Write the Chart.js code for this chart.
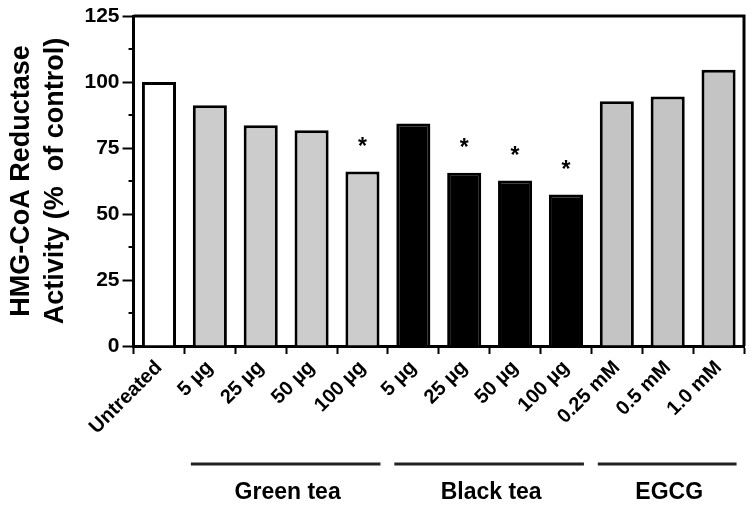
<!DOCTYPE html>
<html>
<head>
<meta charset="utf-8">
<script src="https://cdn.jsdelivr.net/npm/chart.js@4"></script>
<style>
  html, body { margin: 0; padding: 0; background: #fff; }
  #wrap { width: 754px; height: 511px; }
</style>
</head>
<body>
<div id="wrap"><canvas id="hmgChart" width="754" height="511"></canvas></div>
<script>
// values
const labels = ["Untreated", "5 µg", "25 µg", "50 µg", "100 µg", "5 µg", "25 µg", "50 µg", "100 µg", "0.25 mM", "0.5 mM", "1.0 mM"];
const activity = [100, 91.2, 83.6, 81.7, 66.1, 84.3, 65.6, 62.7, 57.4, 92.7, 94.5, 104.6];
const significant = [false, false, false, false, true, false, true, true, true, false, false, false];
const groupNames = ["Green tea", "Black tea", "EGCG"];
const groupFirst = [1, 5, 9];
const groupLast = [4, 8, 11];

const FONT = "'Liberation Sans', Arial, sans-serif";
const fills = ["#ffffff", "#cccccc", "#cccccc", "#cccccc", "#cccccc",
  "#000000", "#000000", "#000000", "#000000", "#c4c4c4", "#c4c4c4", "#c4c4c4"];

// box on top and right + minor ticks on the y axis
const framePlugin = {
  id: "frame",
  afterDraw(chart) {
    const { ctx, chartArea: a, scales } = chart;
    ctx.save();
    ctx.strokeStyle = "#000";
    ctx.lineWidth = 3;
    ctx.beginPath();
    ctx.moveTo(a.left, a.top);
    ctx.lineTo(a.right, a.top);
    ctx.lineTo(a.right, a.bottom);
    ctx.stroke();
    ctx.lineWidth = 2;
    for (let v = 12.5; v < 125; v += 25) {
      const y = scales.y.getPixelForValue(v);
      ctx.beginPath();
      ctx.moveTo(a.left - 5, y);
      ctx.lineTo(a.left, y);
      ctx.stroke();
    }
    ctx.restore();
  }
};

// asterisks over significant bars
const starPlugin = {
  id: "stars",
  afterDatasetsDraw(chart) {
    const { ctx } = chart;
    const bars = chart.getDatasetMeta(0).data;
    ctx.save();
    ctx.fillStyle = "#000";
    ctx.font = "bold 23px " + FONT;
    ctx.textAlign = "center";
    ctx.textBaseline = "middle";
    bars.forEach((bar, i) => {
      if (significant[i]) ctx.fillText("*", bar.x, bar.y - 24);
    });
    ctx.restore();
  }
};

// group lines and names under the x labels
const groupPlugin = {
  id: "groups",
  afterDraw(chart) {
    const { ctx, chartArea: a, scales } = chart;
    ctx.save();
    ctx.strokeStyle = "#222";
    ctx.lineWidth = 3;
    ctx.fillStyle = "#000";
    ctx.font = "bold 23px " + FONT;
    ctx.textAlign = "center";
    ctx.textBaseline = "middle";
    groupNames.forEach((name, g) => {
      const x0 = scales.x.getPixelForValue(groupFirst[g]) - 19;
      const x1 = scales.x.getPixelForValue(groupLast[g]) + 18;
      ctx.beginPath();
      ctx.moveTo(x0, a.bottom + 118);
      ctx.lineTo(x1, a.bottom + 118);
      ctx.stroke();
      ctx.fillText(name, (x0 + x1) / 2 + 2, a.bottom + 147);
    });
    ctx.restore();
  }
};

new Chart(document.getElementById("hmgChart"), {
  type: "bar",
  data: {
    labels: labels,
    datasets: [{
      data: activity,
      backgroundColor: fills,
      borderColor: "#000",
      borderWidth: 3,
      borderSkipped: "bottom",
      barPercentage: 0.67,
      categoryPercentage: 1
    }]
  },
  options: {
    responsive: false,
    animation: false,
    layout: { padding: { left: 5, right: 10, top: 16, bottom: 70 } },
    plugins: { legend: { display: false }, tooltip: { enabled: false } },
    scales: {
      x: {
        grid: { drawOnChartArea: false, drawTicks: true, tickLength: 8, tickWidth: 2, tickColor: "#000" },
        border: { display: true, color: "#000", width: 3 },
        ticks: {
          color: "#000",
          font: { family: FONT, size: 20, weight: "bold" },
          minRotation: 45,
          maxRotation: 45,
          padding: 2
        }
      },
      y: {
        min: 0,
        max: 125,
        grid: { drawOnChartArea: false, drawTicks: true, tickLength: 11, tickWidth: 2, tickColor: "#000" },
        border: { display: true, color: "#000", width: 3 },
        ticks: {
          stepSize: 25,
          color: "#000",
          font: { family: FONT, size: 21, weight: "bold" },
          padding: 3
        },
        title: {
          display: true,
          text: ["HMG-CoA Reductase", "Activity (%  of control)"],
          color: "#000",
          font: { family: FONT, size: 27, weight: "bold", lineHeight: 1.25 },
          padding: { top: 0, bottom: 9 }
        }
      }
    }
  },
  plugins: [framePlugin, starPlugin, groupPlugin]
});
</script>
</body>
</html>
